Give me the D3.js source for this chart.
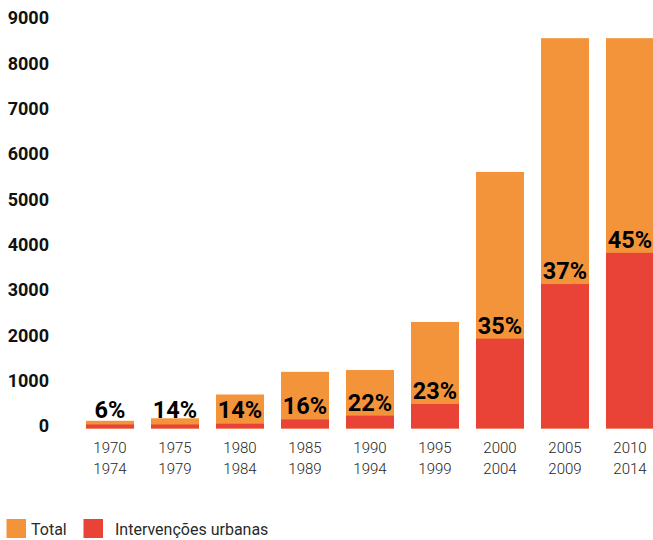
<!DOCTYPE html>
<html>
<head>
<meta charset="utf-8">
<script src="https://cdn.jsdelivr.net/npm/d3@7"></script>
<style>
  html, body { margin: 0; padding: 0; background: #fff; }
  svg { display: block; }
</style>
</head>
<body>
<svg id="chart" width="653" height="540"></svg>
<script>
// Periods (two-line labels), total counts and the urban-intervention share (%)
const periodStart = ["1970", "1975", "1980", "1985", "1990", "1995", "2000", "2005", "2010"];
const periodEnd   = ["1974", "1979", "1984", "1989", "1994", "1999", "2004", "2009", "2014"];
const totals      = [170, 225, 750, 1250, 1290, 2350, 5660, 8610, 8610];
const urbanShare  = [6, 14, 14, 16, 22, 23, 35, 37, 45];
const yTicks      = [0, 1000, 2000, 3000, 4000, 5000, 6000, 7000, 8000, 9000];
const seriesNames = ["Total", "Intervenções urbanas"];

const orange = "#F3943B";
const red = "#E84336";

const rows = periodStart.map((p, i) => ({
  key: p,
  start: p,
  end: periodEnd[i],
  total: totals[i],
  share: urbanShare[i],
  urban: totals[i] * urbanShare[i] / 100
}));

const svg = d3.select("#chart");

const x = d3.scaleBand()
  .domain(periodStart)
  .range([69, 671])
  .paddingInner(17 / 65)
  .paddingOuter(17 / 65);

const y = d3.scaleLinear()
  .domain([0, 9000])
  .range([428.5, 20.5]);

// Value axis: bold numbers only, no line or ticks
const yAxis = svg.append("g")
  .attr("transform", "translate(49,0)")
  .call(d3.axisLeft(y).tickValues(yTicks).tickSize(0).tickPadding(0).tickFormat(d3.format("d")));
yAxis.select(".domain").remove();
yAxis.selectAll("text")
  .attr("dy", "0.32em")
  .attr("y", -2.5)
  .style("font-family", "Roboto, sans-serif")
  .style("font-weight", 700)
  .style("font-size", "18px")
  .style("fill", "#111");

// Total bars
svg.append("g").selectAll("rect")
  .data(rows)
  .join("rect")
  .attr("x", d => x(d.key))
  .attr("width", x.bandwidth())
  .attr("y", d => y(d.total))
  .attr("height", d => y(0) - y(d.total))
  .attr("fill", orange);

// Urban-intervention bars (kept at least 4px tall so tiny shares stay visible)
const minH = 4;
const urbanTop = d => Math.min(y(d.urban), y(0) - minH);
svg.append("g").selectAll("rect")
  .data(rows)
  .join("rect")
  .attr("x", d => x(d.key))
  .attr("width", x.bandwidth())
  .attr("y", urbanTop)
  .attr("height", d => y(0) - urbanTop(d))
  .attr("fill", red);

// Share labels sitting just above the red segment
svg.append("g").selectAll("text")
  .data(rows)
  .join("text")
  .attr("x", d => x(d.key) + x.bandwidth() / 2)
  .attr("y", d => Math.min(urbanTop(d) - 5, 418))
  .attr("text-anchor", "middle")
  .style("font-family", "Roboto, sans-serif")
  .style("font-weight", 700)
  .style("font-size", "23.5px")
  .style("fill", "#000")
  .text(d => d.share + "%");

// Period labels (two lines)
const periodAxis = svg.append("g")
  .selectAll("text")
  .data(rows)
  .join("text")
  .attr("x", d => x(d.key) + x.bandwidth() / 2)
  .attr("text-anchor", "middle")
  .style("font-family", "Roboto, sans-serif")
  .style("font-weight", 300)
  .style("font-size", "15px")
  .style("fill", "#1e1e1e");
periodAxis.append("tspan")
  .attr("x", d => x(d.key) + x.bandwidth() / 2)
  .attr("y", 452.5)
  .text(d => d.start);
periodAxis.append("tspan")
  .attr("x", d => x(d.key) + x.bandwidth() / 2)
  .attr("y", 473.5)
  .text(d => d.end);

// Legend
const legendX = [6.5, 83.5];
const legend = svg.append("g").selectAll("g")
  .data(seriesNames)
  .join("g")
  .attr("transform", (d, i) => `translate(${legendX[i]},519)`);
legend.append("rect")
  .attr("width", 19.5)
  .attr("height", 19)
  .attr("fill", (d, i) => i === 0 ? orange : red);
legend.append("text")
  .attr("x", (d, i) => i === 0 ? 24.5 : 31.5)
  .attr("y", 15.5)
  .style("font-family", "Roboto, sans-serif")
  .style("font-size", "16px")
  .style("fill", "#2a2a2a")
  .text(d => d);
</script>
</body>
</html>
